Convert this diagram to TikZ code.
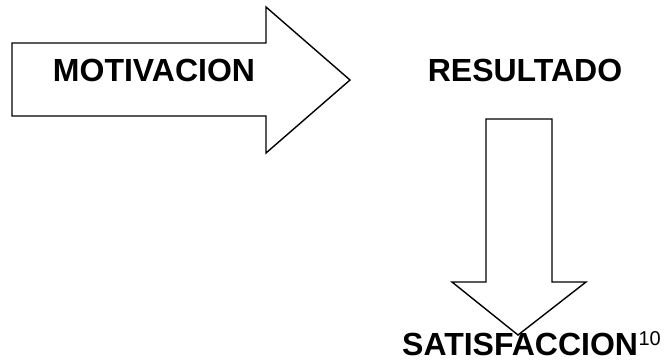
\documentclass[tikz,border=0pt]{standalone}
\usepackage{fontspec}
\setmainfont{Liberation Sans}
\begin{document}
\begin{tikzpicture}[x=1pt,y=-1pt,
  blockarrow/.style={draw=black,line width=1.4pt,line join=miter,fill=white},
  bigword/.style={font=\fontsize{32}{32}\selectfont\bfseries,inner sep=0pt}]
\useasboundingbox (0,0) rectangle (666,360);
% horizontal block arrow
\draw[blockarrow] (12,43) -- (266,43) -- (266,7) -- (350,80) -- (266,153)
  -- (266,116) -- (12,116) -- cycle;
% vertical block arrow
\draw[blockarrow] (486,119) -- (552,119) -- (552,282) -- (586,282) -- (518,335)
  -- (452,282) -- (486,282) -- cycle;
\node[bigword,anchor=base] (motiv) at (154,81) {MOTIVACION};
\node[bigword,anchor=base] (result) at (525,81) {RESULTADO};
\node[bigword,anchor=base west] (satis) at (402,355)
  {SATISFACCION\hspace{0.5pt}\raisebox{10pt}{\fontsize{20}{20}\selectfont\mdseries 10}};
\end{tikzpicture}
\end{document}
